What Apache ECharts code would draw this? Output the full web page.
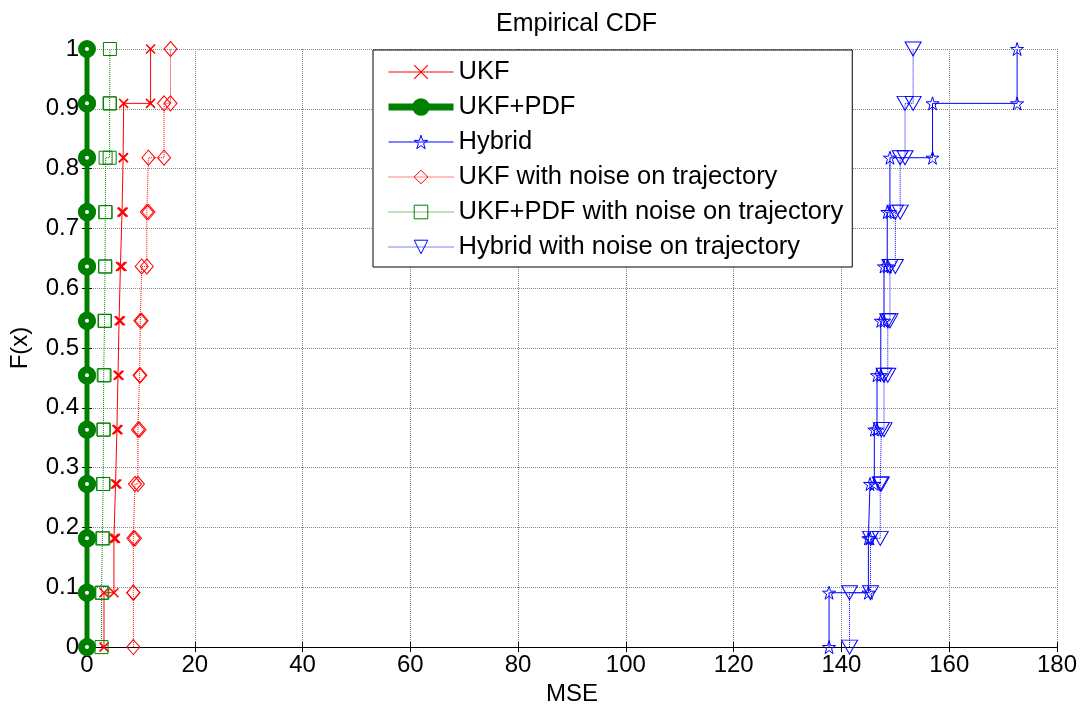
<!DOCTYPE html>
<html><head><meta charset="utf-8">
<script src="https://cdn.jsdelivr.net/npm/echarts@6/dist/echarts.min.js"></script>
<style>html,body{margin:0;padding:0;background:#fff}#c{width:1092px;height:711px}</style>
</head><body><div id="c"></div>
<script>
// Sorted sample values (MSE) for each method, 11 runs each
const seriesNames = ['UKF', 'UKF+PDF', 'Hybrid', 'UKF with noise on trajectory', 'UKF+PDF with noise on trajectory', 'Hybrid with noise on trajectory'];
const ukf = [3.15, 5.0, 5.3, 5.55, 5.75, 5.95, 6.2, 6.5, 6.7, 6.8, 11.8];
const ukfPdf = [0, 0, 0, 0, 0, 0, 0, 0, 0, 0, 0];
const hybrid = [137.7, 145.0, 145.3, 146.1, 146.6, 147.3, 147.9, 148.5, 149.0, 156.9, 172.6];
const ukfNoise = [8.6, 8.6, 8.9, 9.45, 9.75, 9.9, 10.15, 11.1, 11.4, 14.3, 15.5];
const ukfPdfNoise = [2.7, 2.85, 3.0, 3.05, 3.1, 3.25, 3.35, 3.4, 3.45, 4.2, 4.25];
const hybridNoise = [141.5, 145.4, 147.2, 147.4, 147.9, 148.6, 149.0, 150.0, 150.9, 151.8, 153.3];
// Empirical CDF levels F(x)
const cdfLevels = [0, 0.0909, 0.1818, 0.2727, 0.3636, 0.4545, 0.5455, 0.6364, 0.7273, 0.8182, 0.9091, 1];
const xTickLabels = ['0', '20', '40', '60', '80', '100', '120', '140', '160', '180'];
const yTickLabels = ['0', '0.1', '0.2', '0.3', '0.4', '0.5', '0.6', '0.7', '0.8', '0.9', '1'];

function stairs(vals) {
  const pts = [];
  for (let i = 0; i < vals.length; i++) {
    pts.push([vals[i], cdfLevels[i]]);
    pts.push([vals[i], cdfLevels[i + 1]]);
  }
  return pts;
}

const FONT = 'Liberation Sans, Arial, sans-serif';
const RED = '#ff0000', GREEN = '#008000', BLUE = '#0000ff';
const STAR = 'path://M50,0 L61.2,34.5 L97.6,34.5 L68.2,55.9 L79.4,90.5 L50,69.1 L20.6,90.5 L31.8,55.9 L2.4,34.5 L38.8,34.5 Z';
const XMARK = 'path://M0,0 L10,10 M10,0 L0,10';
const CLEAR = 'rgba(0,0,0,0)';

function mk(name, vals, color, lineType, lineWidth, symbol, size, extra) {
  return Object.assign({
    name: name,
    type: 'line',
    data: stairs(vals),
    clip: false,
    symbol: symbol,
    symbolSize: size,
    showAllSymbol: true,
    lineStyle: { color: color, width: lineWidth, type: lineType },
    itemStyle: { color: CLEAR, borderColor: color, borderWidth: 1, borderType: 'solid' },
    emphasis: { disabled: true },
    z: 3
  }, extra || {});
}

function legendItem(name, color, lineType, lineWidth, itemStyle) {
  return {
    name: name,
    lineStyle: { color: color, width: lineWidth, type: lineType },
    itemStyle: Object.assign({ color: CLEAR, borderColor: color, borderWidth: 1, borderType: 'solid' }, itemStyle || {})
  };
}

const chart = echarts.init(document.getElementById('c'));
const axisCommon = {
  min: 0,
  axisLine: { show: true, lineStyle: { color: '#000', width: 1 } },
  axisTick: { show: true, inside: true, length: 5, lineStyle: { color: '#000' } },
};
chart.setOption({
  animation: false,
  backgroundColor: '#fff',
  title: {
    text: 'Empirical CDF', left: 491, top: 7,
    textStyle: { fontFamily: FONT, fontSize: 25, fontWeight: 'normal', color: '#000' }
  },
  grid: { left: 87, right: 35, top: 49, bottom: 61, containLabel: false },
  legend: {
    data: [
      legendItem(seriesNames[0], RED, 'solid', 1, { borderWidth: 1.2 }),
      legendItem(seriesNames[1], GREEN, 'solid', 7, { color: GREEN, borderWidth: 4 }),
      legendItem(seriesNames[2], BLUE, 'solid', 1),
      legendItem(seriesNames[3], RED, 'dotted', 1),
      legendItem(seriesNames[4], GREEN, 'dotted', 1),
      legendItem(seriesNames[5], BLUE, 'dotted', 1)
    ],
    orient: 'vertical',
    left: 373, top: 50,
    padding: [8, 9, 6, 12],
    itemWidth: 65, itemHeight: 17, itemGap: 7,
    backgroundColor: '#fff', borderColor: '#000', borderWidth: 1,
    textStyle: { fontFamily: FONT, fontSize: 25.5, color: '#000', lineHeight: 28 },
    selectedMode: false
  },
  xAxis: [
    Object.assign({}, axisCommon, {
      type: 'value', max: 180, interval: 20, position: 'bottom',
      name: 'MSE', nameLocation: 'middle', nameGap: 28,
      nameTextStyle: { fontFamily: FONT, fontSize: 24, color: '#000' },
      axisLabel: { fontFamily: FONT, fontSize: 24, color: '#000', margin: 6,
        formatter: v => xTickLabels[Math.round(v / 20)] },
      splitLine: { show: true, lineStyle: { color: '#888', type: 'dotted', width: 1 } }
    }),
    Object.assign({}, axisCommon, {
      type: 'value', max: 180, interval: 20, position: 'top',
      axisLabel: { show: false }, splitLine: { show: false }
    })
  ],
  yAxis: [
    Object.assign({}, axisCommon, {
      type: 'value', max: 1, interval: 0.1, position: 'left',
      name: 'F(x)', nameLocation: 'middle', nameGap: 55,
      nameTextStyle: { fontFamily: FONT, fontSize: 24, color: '#000' },
      axisLabel: { fontFamily: FONT, fontSize: 24, color: '#000', margin: 8,
        formatter: v => yTickLabels[Math.round(v * 10)] },
      splitLine: { show: true, lineStyle: { color: '#888', type: 'dotted', width: 1 } }
    }),
    Object.assign({}, axisCommon, {
      type: 'value', max: 1, interval: 0.1, position: 'right',
      axisLabel: { show: false }, splitLine: { show: false }
    })
  ],
  series: [
    mk(seriesNames[0], ukf, RED, 'solid', 1, XMARK, 9, { itemStyle: { color: CLEAR, borderColor: RED, borderWidth: 1.5 } }),
    mk(seriesNames[1], ukfPdf, GREEN, 'solid', 5, 'circle', 11, { itemStyle: { color: '#fff', borderColor: GREEN, borderWidth: 7 } }),
    mk(seriesNames[2], hybrid, BLUE, 'solid', 1, STAR, 13),
    mk(seriesNames[3], ukfNoise, RED, 'dotted', 1, 'diamond', [13, 15]),
    mk(seriesNames[4], ukfPdfNoise, GREEN, 'dotted', 1, 'rect', 13),
    mk(seriesNames[5], hybridNoise, BLUE, 'dotted', 1, 'triangle', [16, 14], { symbolRotate: 180 })
  ]
});
</script>
</body></html>
